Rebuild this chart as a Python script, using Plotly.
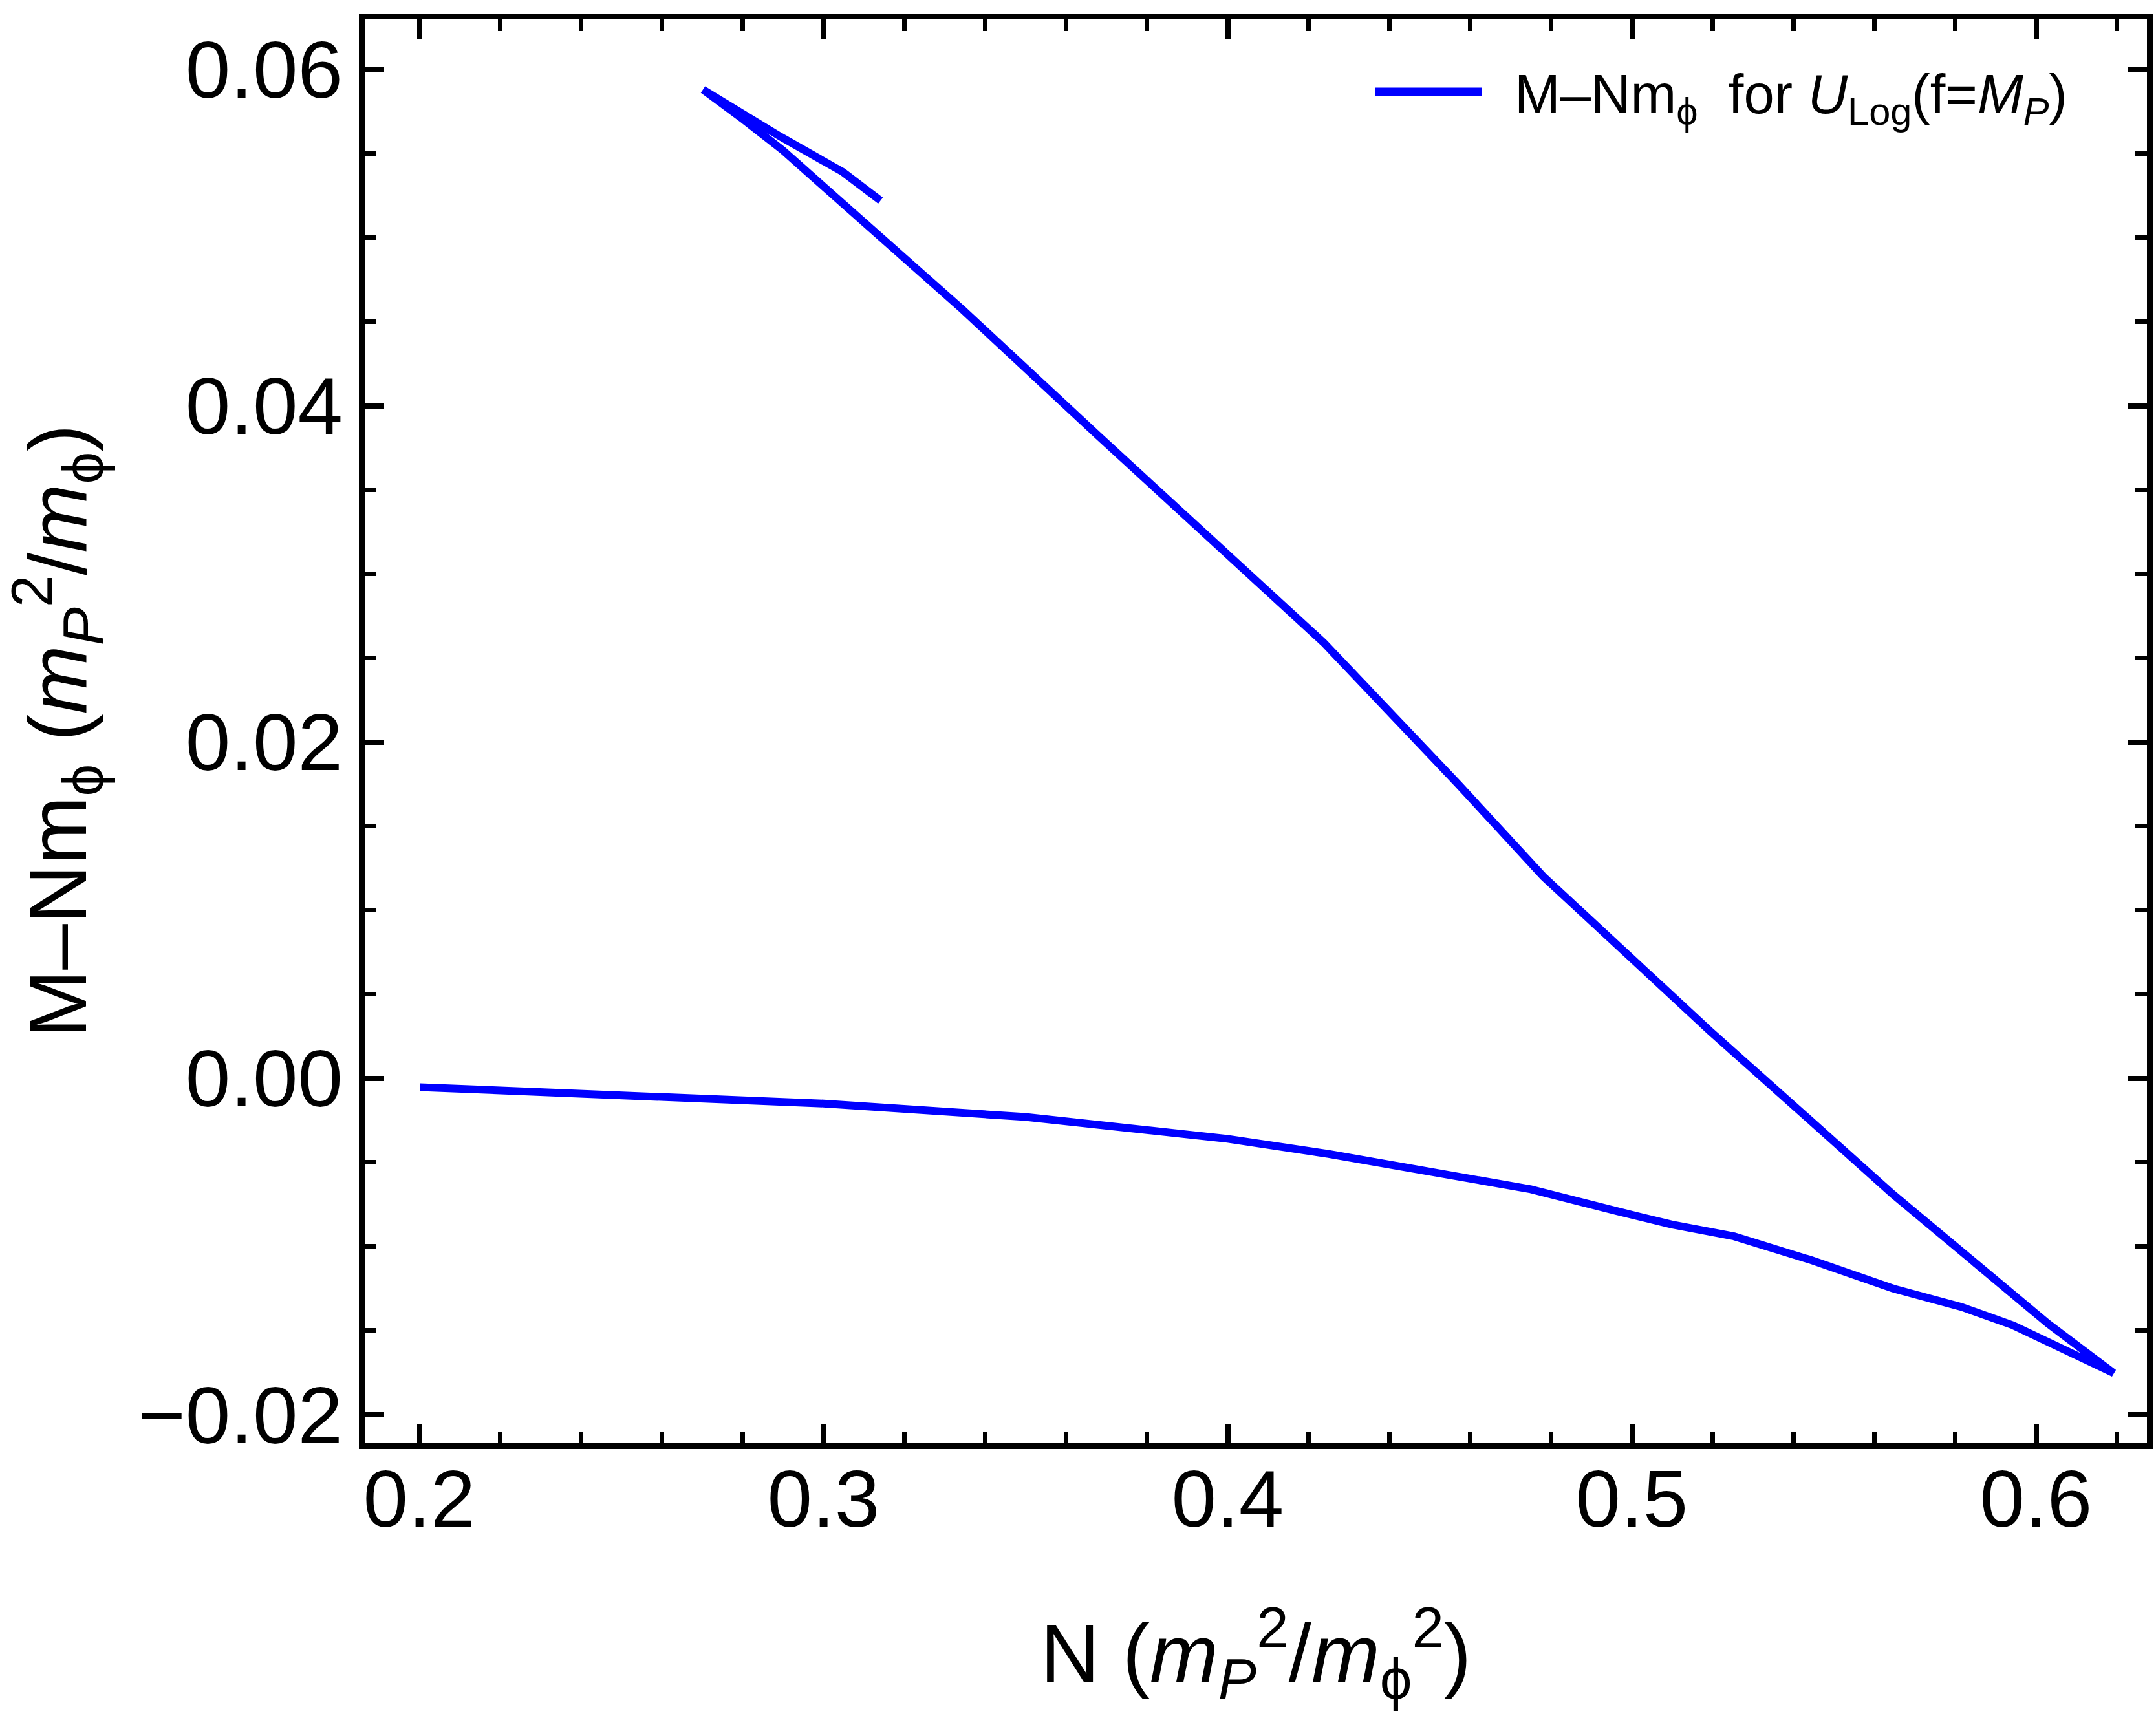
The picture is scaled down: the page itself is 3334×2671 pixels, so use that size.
import plotly.graph_objects as go

# ---- data ----
N_lower = [0.2002, 0.250, 0.300, 0.350, 0.375, 0.400, 0.425, 0.450, 0.475, 0.4963,
           0.5099, 0.5253, 0.5442, 0.5646, 0.5816, 0.5944, 0.6072, 0.6192]
M_lower = [-0.00053, -0.0010, -0.0015, -0.0023, -0.0029, -0.0036, -0.0045, -0.0055, -0.0066, -0.0079,
           -0.0087, -0.0094, -0.0108, -0.0125, -0.0136, -0.0147, -0.0161, -0.01753]

N_upper = [0.6030, 0.5816, 0.5646, 0.5432, 0.5325, 0.5194, 0.4781, 0.4570, 0.4238,
           0.3917, 0.3685, 0.3345, 0.3016, 0.2899, 0.2803, 0.2702]
M_upper = [-0.0146, -0.0103, -0.0069, -0.0023, 0.0000, 0.0028, 0.0120, 0.0175, 0.0259,
           0.0329, 0.0381, 0.0457, 0.0528, 0.0552, 0.0570, 0.0588]

N_tail = [0.2894, 0.3048, 0.3141]
M_tail = [0.0560, 0.0539, 0.0522]

x_range = [0.18648, 0.62744]
y_range = [-0.02170, 0.06298]

legend_text = "M\u2013Nm<sub>\u03d5</sub>  for <i>U</i><sub>Log</sub>(f=<i>M<sub>P</sub></i>)"
x_title = "N (<i>m<sub>P</sub></i><sup>2</sup>/<i>m</i><sub>\u03d5</sub><sup>2</sup>)"
y_title = "M\u2013Nm<sub>\u03d5</sub> (<i>m<sub>P</sub></i><sup>2</sup>/<i>m</i><sub>\u03d5</sub>)"

FONT = "Liberation Sans, Arial, sans-serif"

W, H = 3334, 2671
ml, mr, mt, mb = 564, 14, 30, 439

N_all = N_lower + N_upper + N_tail
M_all = M_lower + M_upper + M_tail

fig = go.Figure()
fig.add_trace(go.Scatter(
    x=N_all, y=M_all, mode="lines",
    line=dict(color="#0000ff", width=12, shape="linear"),
    showlegend=False,
))

axis_common = dict(
    showgrid=False, zeroline=False,
    showline=True, linewidth=9, linecolor="black", mirror="allticks",
    ticks="inside", ticklen=30, tickwidth=8, tickcolor="black",
    tickfont=dict(family=FONT, size=125, color="black"),
    automargin=False,
)

fig.update_xaxes(
    **axis_common,
    range=x_range, tick0=0, dtick=0.1, tickformat=".1f",
    minor=dict(dtick=0.02, ticks="inside", ticklen=18, tickwidth=7, tickcolor="black"),
    ticklabelstandoff=-30,
    title=dict(text=x_title, font=dict(family=FONT, size=127, color="black"), standoff=130),
)
fig.update_yaxes(
    **axis_common,
    range=y_range, tick0=0, dtick=0.02, tickformat=".2f",
    minor=dict(dtick=0.005, ticks="inside", ticklen=18, tickwidth=7, tickcolor="black"),
    ticklabelstandoff=0,
    title=dict(text=y_title, font=dict(family=FONT, size=127, color="black"), standoff=52),
)

pw, ph = W - ml - mr, H - mt - mb
def px_x(p):
    return (p - ml) / pw
def px_y(p):
    return 1 - (p - mt) / ph

fig.add_shape(type="line", xref="paper", yref="paper",
              x0=px_x(2126), x1=px_x(2292), y0=px_y(142), y1=px_y(142),
              line=dict(color="#0000ff", width=13))
fig.add_annotation(xref="paper", yref="paper", x=px_x(2340), y=px_y(152),
                   xanchor="left", yanchor="middle", showarrow=False,
                   text=legend_text, font=dict(family=FONT, size=85, color="black"))

fig.update_layout(
    width=W, height=H, autosize=False,
    margin=dict(l=ml, r=mr, t=mt, b=mb, pad=0),
    paper_bgcolor="white", plot_bgcolor="white",
    showlegend=False,
)

fig.write_html("out.html")
